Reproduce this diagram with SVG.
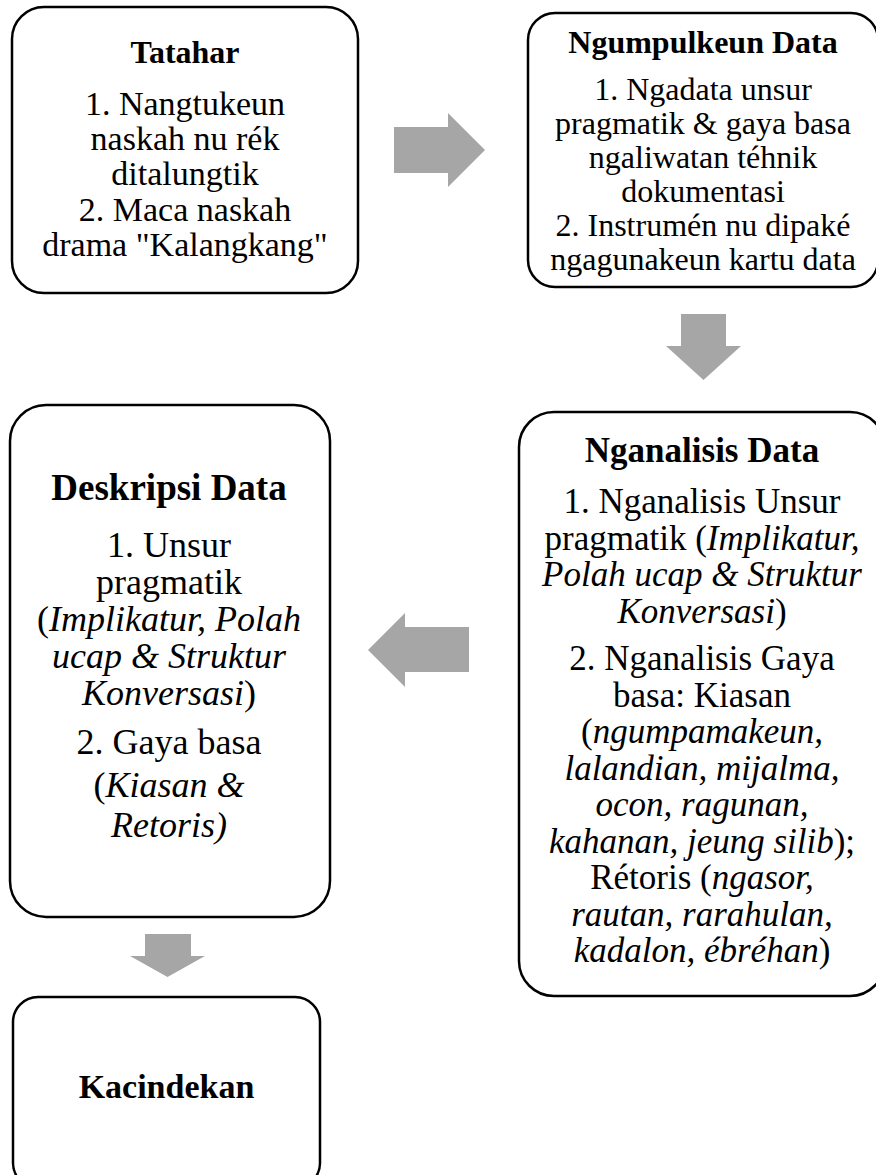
<svg xmlns="http://www.w3.org/2000/svg" width="876" height="1175" viewBox="0 0 876 1175">
<style>
.box{fill:#ffffff;stroke:#000000;stroke-width:2.5}
.arr{fill:#a6a6a6;stroke:none}
text{font-family:"Liberation Serif","Times New Roman",serif;fill:#000000;text-anchor:middle}
.t{font-weight:bold}
.i{font-style:italic}
</style>
<rect width="876" height="1175" fill="#ffffff"/>
<g id="connectors">
<polygon class="arr" points="394,127 448,127 448,113 485,150 448,187 448,173 394,173"/>
<polygon class="arr" points="681,314 726,314 726,346 741,346 703.5,380 666,346 681,346"/>
<polygon class="arr" points="469,627 405,627 405,613 368,650 405,687 405,672 469,672"/>
<polygon class="arr" points="145,934 191,934 191,956 205,956 167.5,977 130,956 145,956"/>
</g>
<g id="tatahar">
<rect class="box" x="12" y="7" width="346" height="286" rx="32"/>
<text class="t" x="185" y="63" font-size="32">Tatahar</text>
<g font-size="34">
<text x="185" y="115">1. Nangtukeun</text>
<text x="185" y="150">naskah nu rék</text>
<text x="185" y="185">ditalungtik</text>
<text x="185" y="221">2. Maca naskah</text>
<text x="185" y="256">drama "Kalangkang"</text>
</g>
</g>
<g id="ngumpulkeun">
<rect class="box" x="528" y="13" width="350" height="274" rx="27"/>
<text class="t" x="703" y="53" font-size="32">Ngumpulkeun Data</text>
<g font-size="32">
<text x="703" y="100">1. Ngadata unsur</text>
<text x="703" y="134">pragmatik &amp; gaya basa</text>
<text x="703" y="168">ngaliwatan téhnik</text>
<text x="703" y="202">dokumentasi</text>
<text x="703" y="236">2. Instrumén nu dipaké</text>
<text x="703" y="270">ngagunakeun kartu data</text>
</g>
</g>
<g id="nganalisis">
<rect class="box" x="519" y="412" width="366" height="584" rx="35"/>
<text class="t" x="702" y="462" font-size="35">Nganalisis Data</text>
<g font-size="35">
<text x="702" y="513">1. Nganalisis Unsur</text>
<text x="702" y="549.5">pragmatik (<tspan class="i">Implikatur,</tspan></text>
<text x="702" y="586" class="i">Polah ucap &amp; Struktur</text>
<text x="702" y="622.5"><tspan class="i">Konversasi</tspan>)</text>
<text x="702" y="670">2. Nganalisis Gaya</text>
<text x="702" y="706.5">basa: Kiasan</text>
<text x="702" y="743">(<tspan class="i">ngumpamakeun,</tspan></text>
<text x="702" y="779.5" class="i">lalandian, mijalma,</text>
<text x="702" y="816" class="i">ocon, ragunan,</text>
<text x="702" y="852.5"><tspan class="i">kahanan, jeung silib</tspan>);</text>
<text x="702" y="889">Rétoris (<tspan class="i">ngasor,</tspan></text>
<text x="702" y="925.5" class="i">rautan, rarahulan,</text>
<text x="702" y="962"><tspan class="i">kadalon, ébréhan</tspan>)</text>
</g>
</g>
<g id="deskripsi">
<rect class="box" x="10" y="405" width="320" height="512" rx="36"/>
<text class="t" x="169" y="500" font-size="37">Deskripsi Data</text>
<g font-size="36">
<text x="169" y="557">1. Unsur</text>
<text x="169" y="594">pragmatik</text>
<text x="169" y="631">(<tspan class="i">Implikatur, Polah</tspan></text>
<text x="169" y="668" class="i">ucap &amp; Struktur</text>
<text x="169" y="705"><tspan class="i">Konversasi</tspan>)</text>
<text x="169" y="754">2. Gaya basa</text>
<text x="169" y="797">(<tspan class="i">Kiasan &amp;</tspan></text>
<text x="169" y="837" class="i">Retoris)</text>
</g>
</g>
<g id="kacindekan">
<rect class="box" x="13" y="997" width="307" height="191" rx="25"/>
<text class="t" x="166.5" y="1098" font-size="34">Kacindekan</text>
</g>
</svg>
